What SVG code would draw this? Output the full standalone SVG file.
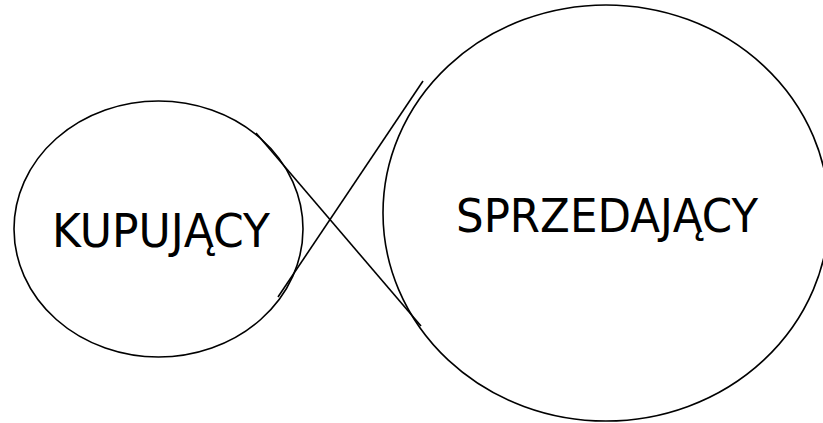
<svg xmlns="http://www.w3.org/2000/svg" width="823" height="423" viewBox="0 0 823 423">
<style>
.shape{fill:none;stroke:#000;stroke-width:1.6}
.label{font-family:"DejaVu Sans","Liberation Sans",sans-serif;font-size:47px;fill:#000;text-anchor:middle}
</style>
<rect width="823" height="423" fill="#fff"/>
<g id="kupujacy">
<ellipse class="shape" cx="158.5" cy="229" rx="144.5" ry="128"/>
<text class="label" x="161" y="247" textLength="218" lengthAdjust="spacingAndGlyphs">KUPUJĄCY</text>
</g>
<g id="sprzedajacy">
<ellipse class="shape" cx="606" cy="213" rx="223" ry="208"/>
<text class="label" x="607" y="232" textLength="302" lengthAdjust="spacingAndGlyphs">SPRZEDAJĄCY</text>
</g>
<g id="connectors">
<line class="shape" x1="423" y1="81" x2="278" y2="297"/>
<line class="shape" x1="256" y1="133" x2="421" y2="326"/>
</g>
</svg>
